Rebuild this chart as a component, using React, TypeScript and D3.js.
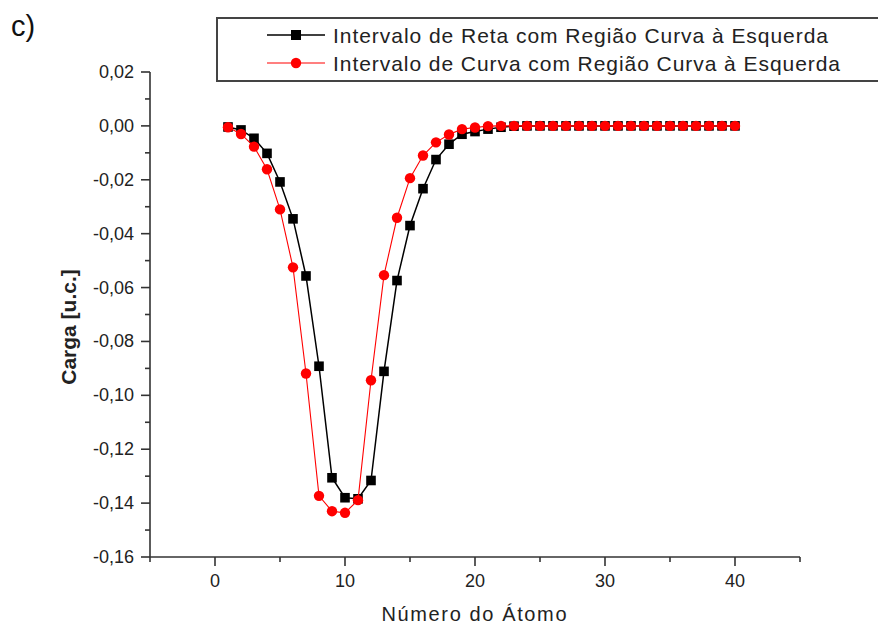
import React from "react";
import * as d3 from "d3";

const atoms = [1,2,3,4,5,6,7,8,9,10,11,12,13,14,15,16,17,18,19,20,21,22,23,24,25,26,27,28,29,30,31,32,33,34,35,36,37,38,39,40];
const retaValues = [-0.0004,-0.0015,-0.0046,-0.0102,-0.0208,-0.0345,-0.0557,-0.0892,-0.1306,-0.1380,-0.1384,-0.1316,-0.0911,-0.0574,-0.0370,-0.0233,-0.0125,-0.0068,-0.0031,-0.0021,-0.0012,-0.0005,-0.0001,0,0,0,0,0,0,0,0,0,0,0,0,0,0,0,0,0];
const curvaValues = [-0.0005,-0.0030,-0.0077,-0.0161,-0.0310,-0.0525,-0.0919,-0.1373,-0.1430,-0.1436,-0.1389,-0.0944,-0.0554,-0.0341,-0.0194,-0.0110,-0.0061,-0.0032,-0.0012,-0.0006,-0.0001,0,0,0,0,0,0,0,0,0,0,0,0,0,0,0,0,0,0,0];
const seriesNames = ["Intervalo de Reta com Região Curva à Esquerda", "Intervalo de Curva com Região Curva à Esquerda"];
const xMajorTicks = [0, 10, 20, 30, 40];
const xMinorTicks = [-5, 5, 15, 25, 35, 45];
const yMajorTicks = [0.02, 0, -0.02, -0.04, -0.06, -0.08, -0.1, -0.12, -0.14, -0.16];
const yMinorTicks = [0.01, -0.01, -0.03, -0.05, -0.07, -0.09, -0.11, -0.13, -0.15];
const xLabel = "Número do Átomo";
const yLabel = "Carga [u.c.]";
const panelLabel = "c)";

const FONT = "'Liberation Sans', Arial, sans-serif";
const AXIS = "#333";

export default function App() {
  const x = d3.scaleLinear().domain([-5, 45]).range([150, 800]);
  const y = d3.scaleLinear().domain([-0.16, 0.02]).range([557, 72]);
  const fmt = (v: number) => d3.format(".2f")(Math.abs(v) < 1e-9 ? 0 : v).replace(".", ",").replace("−", "-");

  const line = d3.line<[number, number]>().x(d => x(d[0])).y(d => y(d[1]));
  const reta: [number, number][] = atoms.map((a, i) => [a, retaValues[i]]);
  const curva: [number, number][] = atoms.map((a, i) => [a, curvaValues[i]]);

  const legendX0 = 267, legendX1 = 325, legendTextX = 333;
  const legendRows = [35, 63];

  return (
    <svg width={878} height={626} style={{ position: "absolute", left: 0, top: 0, background: "#fff" }} fontFamily={FONT}>
      <rect x={0} y={0} width={878} height={626} fill="#fff" />
      <text x={11} y={36} fontSize={29} fill="#111">{panelLabel}</text>

      {/* legend */}
      <rect x={217} y={18} width={670} height={63} fill="#fff" stroke="#444" strokeWidth={2} />
      <line x1={legendX0} x2={legendX1} y1={legendRows[0]} y2={legendRows[0]} stroke="#000" strokeWidth={1.5} />
      <rect x={(legendX0 + legendX1) / 2 - 5} y={legendRows[0] - 5} width={10} height={10} fill="#000" />
      <text x={legendTextX} y={legendRows[0] + 7.5} fontSize={21} fill="#222" textLength={495} lengthAdjust="spacing">{seriesNames[0]}</text>
      <line x1={legendX0} x2={legendX1} y1={legendRows[1]} y2={legendRows[1]} stroke="#ff0000" strokeWidth={1.2} />
      <circle cx={(legendX0 + legendX1) / 2} cy={legendRows[1]} r={5.2} fill="#ff0000" />
      <text x={legendTextX} y={legendRows[1] + 7.5} fontSize={21} fill="#222" textLength={507} lengthAdjust="spacing">{seriesNames[1]}</text>

      {/* axes */}
      <line x1={x(-5)} x2={x(-5)} y1={y(0.02)} y2={y(-0.16)} stroke={AXIS} strokeWidth={1.6} />
      <line x1={x(-5)} x2={x(45)} y1={y(-0.16)} y2={y(-0.16)} stroke={AXIS} strokeWidth={1.6} />
      {yMajorTicks.map(v => (
        <g key={"ym" + v}>
          <line x1={x(-5) - 9} x2={x(-5)} y1={y(v)} y2={y(v)} stroke={AXIS} strokeWidth={1.6} />
          <text x={x(-5) - 16} y={y(v) + 6} fontSize={18} textAnchor="end" fill="#222">{fmt(v)}</text>
        </g>
      ))}
      {yMinorTicks.map(v => (
        <line key={"yn" + v} x1={x(-5) - 5} x2={x(-5)} y1={y(v)} y2={y(v)} stroke={AXIS} strokeWidth={1.6} />
      ))}
      {xMajorTicks.map(v => (
        <g key={"xm" + v}>
          <line x1={x(v)} x2={x(v)} y1={y(-0.16)} y2={y(-0.16) + 9} stroke={AXIS} strokeWidth={1.6} />
          <text x={x(v)} y={y(-0.16) + 30} fontSize={18} textAnchor="middle" fill="#222">{v}</text>
        </g>
      ))}
      {xMinorTicks.map(v => (
        <line key={"xn" + v} x1={x(v)} x2={x(v)} y1={y(-0.16)} y2={y(-0.16) + 5} stroke={AXIS} strokeWidth={1.6} />
      ))}

      <text x={474} y={621} fontSize={20} textAnchor="middle" fill="#222" textLength={185} lengthAdjust="spacing">{xLabel}</text>
      <text transform="translate(76,327) rotate(-90)" fontSize={21} fontWeight="bold" textAnchor="middle" fill="#222">{yLabel}</text>

      {/* series */}
      <path d={line(reta) || ""} fill="none" stroke="#000" strokeWidth={1.5} />
      {reta.map(d => (
        <rect key={"r" + d[0]} x={x(d[0]) - 4.8} y={y(d[1]) - 4.8} width={9.6} height={9.6} fill="#000" />
      ))}
      <path d={line(curva) || ""} fill="none" stroke="#ff0000" strokeWidth={1.1} />
      {curva.map(d => (
        <circle key={"c" + d[0]} cx={x(d[0])} cy={y(d[1])} r={5.2} fill="#ff0000" />
      ))}
    </svg>
  );
}
